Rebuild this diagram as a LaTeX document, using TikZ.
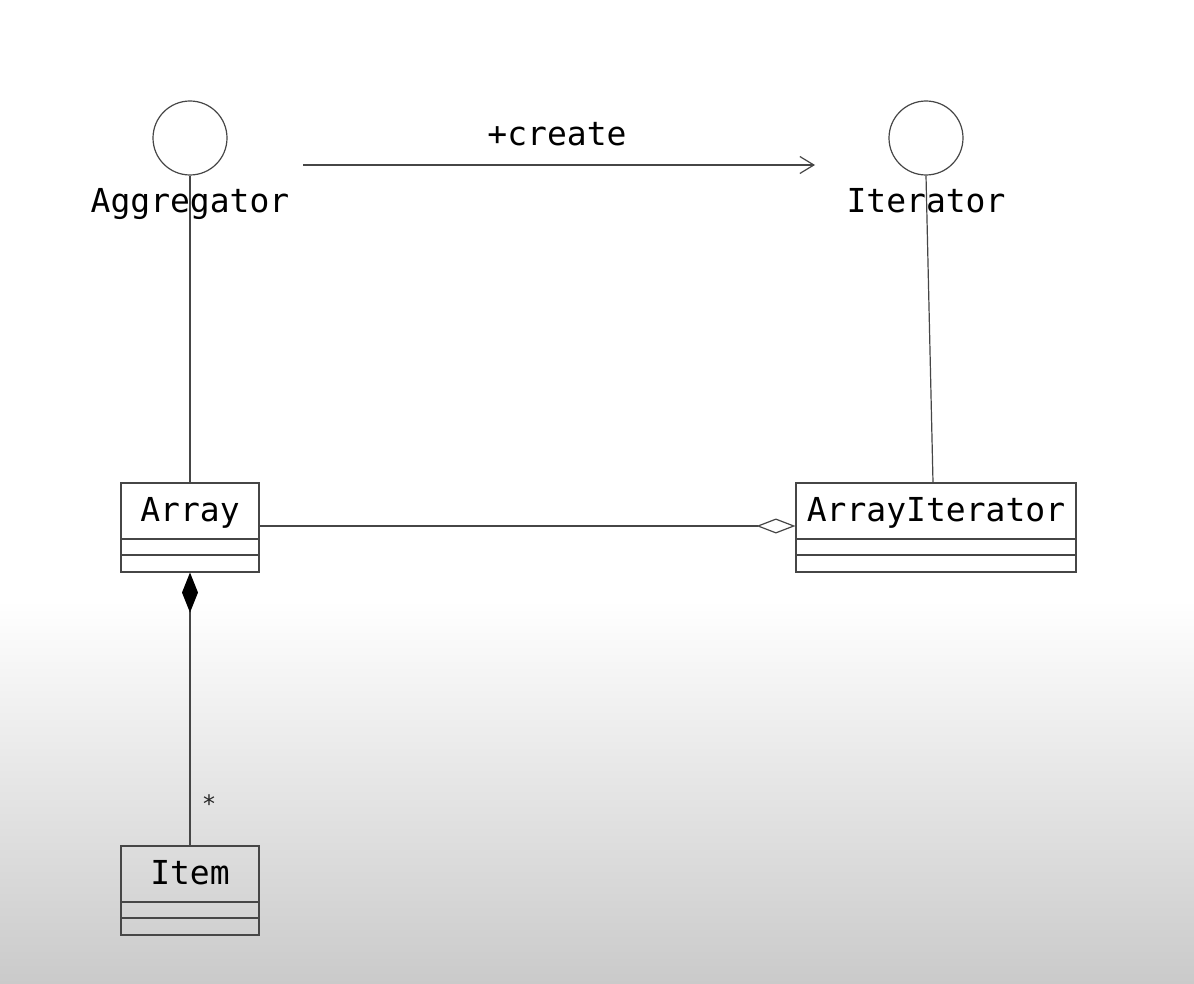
\documentclass[tikz,border=0pt]{standalone}
\usepackage{fontspec}
\setmonofont{DejaVu Sans Mono}
\usetikzlibrary{arrows.meta}
\definecolor{bgbottom}{RGB}{202,202,202}
\definecolor{ln}{RGB}{70,70,70}
\tikzset{
  umlline/.style={draw=ln, line width=1.2pt},
  iface/.style={circle, draw=ln, line width=1.2pt, minimum size=74pt, inner sep=0pt},
  classbox/.style={draw=ln, line width=1.2pt, minimum height=89pt, inner sep=0pt},
  monotxt/.style={font=\ttfamily\fontsize{33}{40}\selectfont, text=black, inner sep=0pt, anchor=base},
}
\begin{document}
\begin{tikzpicture}[x=1pt,y=-1pt]
\fill[white] (0,0) rectangle (1194,984);
\shade[top color=white, bottom color=bgbottom] (0,600) rectangle (1194,984);
\useasboundingbox (0,0) rectangle (1194,984);

% interfaces
\node[iface] (aggc) at (190,138) {};
\node[iface] (itc) at (926,138) {};

% classes
\node[classbox, minimum width=138pt] (array) at (190,527.5) {};
\node[classbox, minimum width=280pt] (arrit) at (936,527.5) {};
\node[classbox, minimum width=138pt] (item) at (190,890.5) {};

% compartments
\draw[umlline] (array.west |- 0,539) -- (array.east |- 0,539);
\draw[umlline] (array.west |- 0,555) -- (array.east |- 0,555);
\draw[umlline] (arrit.west |- 0,539) -- (arrit.east |- 0,539);
\draw[umlline] (arrit.west |- 0,555) -- (arrit.east |- 0,555);
\draw[umlline] (item.west |- 0,902) -- (item.east |- 0,902);
\draw[umlline] (item.west |- 0,918) -- (item.east |- 0,918);

% connectors
\draw[umlline] (aggc.south) -- (array.north);
\draw[umlline] (itc.south) -- ([xshift=-3pt]arrit.north);
\draw[umlline, -{Diamond[open, length=39pt, width=15pt, line width=1.2pt]}] ([yshift=1.5pt]array.east) -- ([yshift=1.5pt]arrit.west);
\draw[umlline, {Diamond[length=40pt, width=16pt, fill=black, color=black]}-] (array.south) -- (item.north);

\coordinate (cs) at (303,165);
\coordinate (ce) at (815,165);
\draw[umlline, -{Straight Barb[length=14pt, width=17pt, line width=1.2pt]}] (cs) -- (ce);

% labels
\node[monotxt] (agglbl) at (190,213) {Aggregator};
\node[monotxt] (itlbl) at (926,213) {Iterator};
\node[monotxt] (createlbl) at (557,146) {+create};
\node[monotxt] (arraylbl) at (190,521) {Array};
\node[monotxt] (arritlbl) at (936,521) {ArrayIterator};
\node[monotxt] (itemlbl) at (190,884) {Item};
\node[font=\ttfamily\fontsize{24}{28}\selectfont, text=black!85, inner sep=0pt] (star) at (209,804) {*};
\end{tikzpicture}
\end{document}
